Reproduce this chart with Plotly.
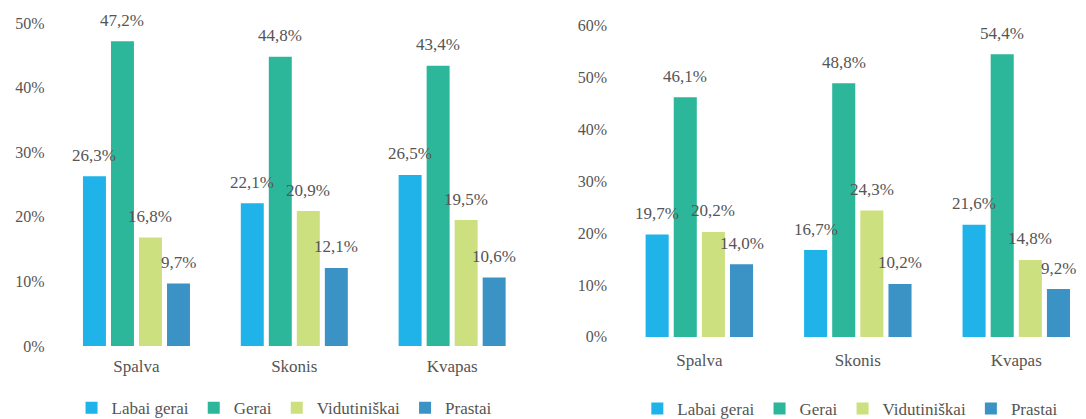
import plotly.graph_objects as go

categories = ["Spalva", "Skonis", "Kvapas"]
series = ["Labai gerai", "Gerai", "Vidutiniškai", "Prastai"]
colors = ["#1fb3ea", "#2db79a", "#cde07f", "#3b93c5"]

left_values = {
    "Labai gerai": [26.3, 22.1, 26.5],
    "Gerai": [47.2, 44.8, 43.4],
    "Vidutiniškai": [16.8, 20.9, 19.5],
    "Prastai": [9.7, 12.1, 10.6],
}
right_values = {
    "Labai gerai": [19.7, 16.7, 21.6],
    "Gerai": [46.1, 48.8, 54.4],
    "Vidutiniškai": [20.2, 24.3, 14.8],
    "Prastai": [14.0, 10.2, 9.2],
}
left_ticks = [0, 10, 20, 30, 40, 50]
right_ticks = [0, 10, 20, 30, 40, 50, 60]

FONT = "Liberation Serif"
TXT = "#555555"
BARGAP = 0.29
GROUPGAP = 0.18

fig = go.Figure()
annotations = []
n = len(series)
slot = (1 - BARGAP) / n

for vals, xa, ya, leg in [
    (left_values, "x", "y", "legend"),
    (right_values, "x2", "y2", "legend2"),
]:
    for j, s in enumerate(series):
        fig.add_trace(go.Bar(
            x=categories, y=vals[s], name=s, marker_color=colors[j],
            marker_line_width=0,
            xaxis=xa, yaxis=ya, legend=leg, hoverinfo="skip",
        ))
        off = -(1 - BARGAP) / 2 + slot * (j + 0.5)
        for i, v in enumerate(vals[s]):
            annotations.append(dict(
                x=i + off, y=v, xref=xa, yref=ya,
                text=f"{v:.1f}".replace(".", ",") + "%",
                showarrow=False, yanchor="middle", yshift=21,
                font=dict(family=FONT, size=17, color=TXT),
            ))

axis_common = dict(showgrid=False, zeroline=False, showline=False, ticks="",
                   automargin=False)

fig.update_layout(
    template="none",
    width=1086, height=419,
    margin=dict(l=0, r=0, t=0, b=0, autoexpand=False),
    paper_bgcolor="white", plot_bgcolor="white",
    barmode="group", bargap=BARGAP, bargroupgap=GROUPGAP,
    font=dict(family=FONT, color=TXT, size=17),
    xaxis=dict(domain=[0.053, 0.489], anchor="y", range=[-0.5, 2.5],
               tickfont=dict(family=FONT, size=17, color=TXT), ticklabelstandoff=8, **axis_common),
    yaxis=dict(domain=[0.174, 0.945], anchor="x", range=[0, 50],
               tickvals=left_ticks, ticktext=[f"{t}%" for t in left_ticks],
               tickfont=dict(family=FONT, size=16, color=TXT), ticklabelstandoff=12, **axis_common),
    xaxis2=dict(domain=[0.571, 1.0], anchor="y2", range=[-0.5, 2.44],
                tickfont=dict(family=FONT, size=17, color=TXT), ticklabelstandoff=11, **axis_common),
    yaxis2=dict(domain=[0.196, 0.940], anchor="x2", range=[0, 60],
                tickvals=right_ticks, ticktext=[f"{t}%" for t in right_ticks],
                tickfont=dict(family=FONT, size=16, color=TXT), ticklabelstandoff=12, **axis_common),
    legend=dict(orientation="h", x=0.262, xanchor="center",
                y=0.026, yanchor="middle",
                font=dict(size=17, color=TXT, family=FONT), bgcolor="rgba(0,0,0,0)",
                borderwidth=0),
    legend2=dict(orientation="h", x=0.783, xanchor="center",
                 y=0.024, yanchor="middle",
                 font=dict(size=17, color=TXT, family=FONT), bgcolor="rgba(0,0,0,0)",
                 borderwidth=0),
    annotations=annotations,
    showlegend=True,
)

fig.write_html("out.html", config={"displayModeBar": False},
               post_script="document.body.style.margin='0';document.body.style.padding='0';")
